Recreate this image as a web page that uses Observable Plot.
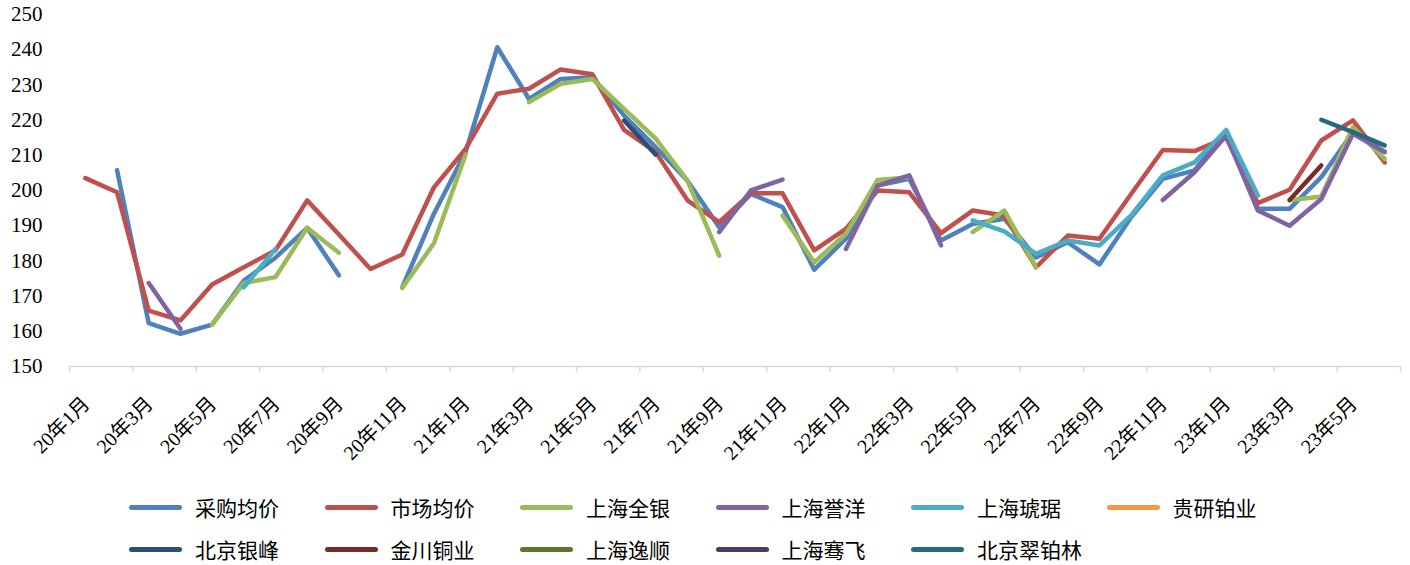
<!DOCTYPE html>
<html>
<head>
<meta charset="utf-8">
<script src="https://cdn.jsdelivr.net/npm/d3@7"></script>
<script src="https://cdn.jsdelivr.net/npm/@observablehq/plot@0.6"></script>
<style>
  html, body { margin: 0; padding: 0; background: #fff; }
  #wrap { position: relative; width: 1410px; height: 565px; overflow: hidden; }
  #legend { position: absolute; left: 0; top: 480px; width: 1410px; height: 85px; }
  .item { position: absolute; display: flex; align-items: center; font-family: "Liberation Serif", "Noto Sans CJK SC", serif; font-size: 21px; color: #000; white-space: nowrap; }
  .sw { width: 53px; height: 5px; border-radius: 3px; margin-right: 13px; }
</style>
</head>
<body>
<div id="wrap"><div id="chart"></div><div id="legend"></div></div>
<script>
const months = [
  "20年1月","20年2月","20年3月","20年4月","20年5月","20年6月","20年7月","20年8月","20年9月","20年10月","20年11月","20年12月",
  "21年1月","21年2月","21年3月","21年4月","21年5月","21年6月","21年7月","21年8月","21年9月","21年10月","21年11月","21年12月",
  "22年1月","22年2月","22年3月","22年4月","22年5月","22年6月","22年7月","22年8月","22年9月","22年10月","22年11月","22年12月",
  "23年1月","23年2月","23年3月","23年4月","23年5月","23年6月"
];
const seriesNames = ["采购均价","市场均价","上海全银","上海誉洋","上海琥琚","贵研铂业","北京银峰","金川铜业","上海逸顺","上海骞飞","北京翠铂林"];
const seriesColors = ["#4F81BD","#C0504D","#9BBB59","#8064A2","#4BACC6","#F79646","#2C4D75","#772C2A","#5F7530","#4D3B62","#276A7C"];

const purchaseAvg = [null,205.8,162.3,159.3,161.9,174.4,180.9,189.4,175.9,null,172.5,193.4,
  210.9,240.7,226.0,231.7,232.2,221.3,212.3,202.8,189.6,199.0,195.3,177.5,
  186.3,201.4,203.3,185.8,190.5,192.0,181.0,185.3,179.0,192.4,203.3,205.7,
  217.0,194.8,194.8,203.8,216.6,211.0];
const marketAvg = [203.5,199.5,165.9,163.1,173.3,178.2,183.0,197.2,187.5,177.7,181.8,200.9,
  211.8,227.5,228.9,234.4,233.0,217.2,210.9,197.2,191.0,199.2,199.2,183.0,
  189.1,200.0,199.5,187.9,194.3,192.9,178.2,187.2,186.3,199.0,211.5,211.2,
  215.0,196.4,200.2,214.2,219.9,208.0];
const shQuanyin = [null,null,null,null,161.9,173.7,175.4,189.4,182.3,null,172.3,185.0,
  210.2,null,225.1,230.3,231.7,223.2,214.7,202.8,181.5,null,192.9,179.6,
  187.7,203.0,203.8,null,188.2,194.3,178.2,null,null,null,null,null,
  null,null,197.2,198.3,218.0,209.0];
const shYuyang = [null,null,173.7,160.7,null,null,null,null,null,null,null,null,
  null,null,null,null,null,null,null,null,188.2,200.0,203.1,null,
  183.4,201.4,204.3,184.4,null,null,null,null,null,null,197.3,205.2,
  215.6,194.3,190.0,197.6,216.1,210.9];
const shHuju = [null,null,null,null,null,172.5,183.4,null,null,null,null,null,
  null,null,null,null,null,null,null,null,null,null,null,null,
  null,null,null,null,191.5,188.4,182.0,185.8,184.4,192.9,204.3,208.0,
  217.2,198.6,null,null,null,null];
const guiyan = months.map(() => null);
const bjYinfeng = [null,null,null,null,null,null,null,null,null,null,null,null,
  null,null,null,null,null,219.9,210.2,null,null,null,null,null,
  null,null,null,null,null,null,null,null,null,null,null,null,
  null,null,null,null,null,null];
const jinchuan = [null,null,null,null,null,null,null,null,null,null,null,null,
  null,null,null,null,null,null,null,null,null,null,null,null,
  null,null,null,null,null,null,null,null,null,null,null,null,
  null,null,197.3,207.1,null,null];
const shYishun = months.map(() => null);
const shQianfei = months.map(() => null);
const bjCuibolin = [null,null,null,null,null,null,null,null,null,null,null,null,
  null,null,null,null,null,null,null,null,null,null,null,null,
  null,null,null,null,null,null,null,null,null,null,null,null,
  null,null,null,220.1,216.6,212.8];

const yTicks = [150,160,170,180,190,200,210,220,230,240,250];

const allSeries = [purchaseAvg, marketAvg, shQuanyin, shYuyang, shHuju, guiyan, bjYinfeng, jinchuan, shYishun, shQianfei, bjCuibolin];
const labelIdx = months.map((m, i) => i).filter(i => i % 2 === 0);
const boundaries = labelIdx.map(i => i - 0.5).concat([months.length - 0.5]);

const serif = "'Liberation Serif', 'Noto Sans CJK SC', serif";

const lineMarks = allSeries.map((vals, k) => Plot.line(
  vals.map((v, i) => ({i, v, s: seriesNames[k]})),
  {x: "i", y: "v", stroke: seriesColors[k], strokeWidth: 4.5, strokeLinecap: "round", strokeLinejoin: "round"}
));

const chart = Plot.plot({
  width: 1410,
  height: 480,
  marginLeft: 69,
  marginRight: 10,
  marginTop: 14,
  marginBottom: 114,
  style: {fontFamily: serif, background: "#fff", color: "#000"},
  x: {type: "linear", domain: [-0.5, months.length - 0.5], axis: null},
  y: {domain: [150, 250], axis: null},
  marks: [
    Plot.ruleY([150], {stroke: "#d9d9d9", strokeWidth: 1.5}),
    Plot.axisX(boundaries, {tickSize: 6, tickFormat: () => "", stroke: "#d9d9d9", strokeWidth: 1.5, label: null}),
    Plot.text(labelIdx, {x: d => d, y: () => 150, text: d => months[d], rotate: -45, textAnchor: "end", lineAnchor: "middle", dx: 1, dy: 34, fontSize: 20, fill: "#000"}),
    Plot.axisY(yTicks, {tickSize: 0, tickPadding: 27, fontSize: 21, fill: "#000", label: null}),
    ...lineMarks
  ]
});
document.getElementById("chart").appendChild(chart);

const legend = document.getElementById("legend");
seriesNames.forEach((name, k) => {
  const row = Math.floor(k / 6), col = k % 6;
  const item = document.createElement("div");
  item.className = "item";
  item.style.left = (129 + col * 195.5) + "px";
  item.style.top = (14 + row * 42) + "px";
  item.style.height = "26px";
  const sw = document.createElement("div");
  sw.className = "sw";
  sw.style.background = seriesColors[k];
  const t = document.createElement("span");
  t.textContent = name;
  item.appendChild(sw); item.appendChild(t);
  legend.appendChild(item);
});
</script>
</body>
</html>
